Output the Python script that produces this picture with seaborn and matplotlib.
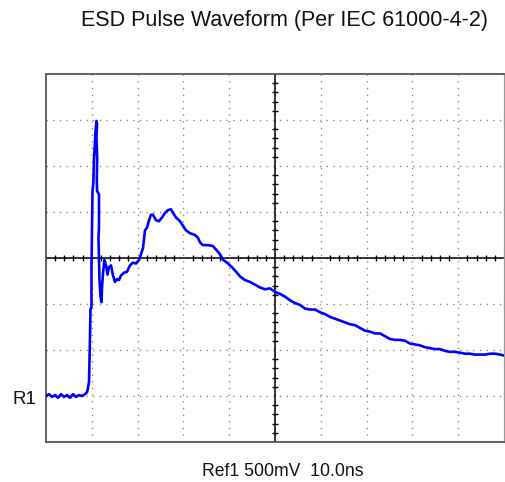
import matplotlib

matplotlib.use("Agg")

import matplotlib.pyplot as plt
import numpy as np
import pandas as pd
import seaborn as sns

# waveform: time in ns, voltage in V relative to the R1 reference
time_ns = [
    0.0, 0.66, 1.31, 1.97, 2.62, 3.28, 3.93, 4.59, 5.24, 5.90, 6.55, 7.21, 7.86, 8.52,
    8.95, 9.17, 9.39, 9.61, 9.71, 9.93, 9.93, 10.04, 10.15, 10.33, 10.48, 10.70, 10.81,
    11.03, 11.14, 11.03, 11.18, 11.09, 11.14, 11.57, 11.57, 11.46, 11.57, 11.68, 11.90,
    12.12, 12.23, 12.45, 12.77, 13.10, 13.43, 13.75, 14.19, 14.63, 15.06, 15.50, 15.94,
    16.37, 17.03, 17.68, 18.34, 19.00, 19.65, 20.31, 20.74, 21.18, 21.61, 22.05, 22.49,
    22.92, 23.36, 24.02, 24.67, 25.33, 25.98, 26.64, 27.29, 27.73, 28.38, 29.26, 29.91,
    30.57, 31.44, 32.53, 33.18, 33.62, 34.27, 35.37, 36.46, 37.33, 37.99, 38.64, 39.52,
    40.61, 41.70, 42.36, 43.44, 44.54, 45.63, 46.72, 47.81, 48.91, 50.00, 51.09, 52.18,
    53.28, 54.37, 55.46, 56.55, 57.64, 58.73, 59.83, 60.92, 62.01, 63.10, 64.19, 65.28,
    66.38, 67.47, 68.56, 69.65, 70.74, 71.83, 72.93, 74.02, 75.11, 76.20, 77.29, 78.38,
    79.48, 80.57, 81.66, 82.75, 83.84, 84.93, 86.03, 87.12, 88.21, 89.30, 90.39, 91.48,
    92.57, 93.67, 94.76, 95.85, 96.94, 98.03, 99.12, 100.0,
]
volts = [
    0.00, 0.02, -0.01, 0.01, -0.02, 0.02, -0.01, 0.01, -0.02, 0.02, -0.01, 0.01, 0.00, 0.02,
    0.04, 0.09, 0.15, 0.65, 0.94, 0.97, 1.40, 1.83, 2.23, 2.31, 2.58, 2.76, 2.88,
    2.99, 2.96, 2.80, 2.58, 2.37, 2.23, 2.19, 1.83, 1.72, 1.51, 1.26, 1.08,
    1.02, 1.18, 1.34, 1.48, 1.42, 1.32, 1.40, 1.42, 1.31, 1.24, 1.27, 1.26,
    1.31, 1.34, 1.35, 1.42, 1.45, 1.44, 1.48, 1.54, 1.61, 1.80, 1.83, 1.91,
    1.97, 1.97, 1.91, 1.90, 1.94, 1.99, 2.02, 2.03, 1.99, 1.94, 1.90, 1.85,
    1.80, 1.77, 1.75, 1.72, 1.67, 1.64, 1.64, 1.63, 1.58, 1.54, 1.48, 1.45,
    1.40, 1.34, 1.30, 1.26, 1.24, 1.21, 1.18, 1.16, 1.17, 1.13, 1.11, 1.08,
    1.04, 1.01, 0.99, 0.95, 0.94, 0.94, 0.91, 0.89, 0.86, 0.84, 0.82, 0.80,
    0.78, 0.77, 0.74, 0.71, 0.70, 0.68, 0.68, 0.65, 0.62, 0.61, 0.61, 0.60,
    0.57, 0.56, 0.55, 0.53, 0.52, 0.51, 0.51, 0.49, 0.48, 0.48, 0.47, 0.46,
    0.46, 0.45, 0.45, 0.45, 0.46, 0.46, 0.45, 0.44,
]

title = "ESD Pulse Waveform (Per IEC 61000-4-2)"
scale_label = "Ref1 500mV  10.0ns"
ref_label = "R1"
ref_level = 0.0

x_div, y_div = 10.0, 0.5  # 10 ns/div, 500 mV/div
x_lim = (0.0, 100.0)
y_lim = (-0.5, 3.5)

sns.set_style("white")
plt.rcParams["font.family"] = ["Liberation Sans", "DejaVu Sans"]

df = pd.DataFrame({"t": time_ns, "v": volts})

fig = plt.figure(figsize=(5.06, 4.82), dpi=100)
ax = fig.add_axes([46 / 506, 40 / 482, 458 / 506, 368 / 482])

# dotted graticule
for gx in np.arange(x_lim[0] + x_div, x_lim[1], x_div):
    ax.axvline(gx, color="#8a8a8a", lw=1.0, ls=(0, (1, 3.8)), zorder=1)
for gy in np.arange(y_lim[0] + y_div, y_lim[1], y_div):
    ax.axhline(gy, color="#8a8a8a", lw=1.0, ls=(0, (1, 3.8)), zorder=1)

# center crosshair with minor ticks
xc = (x_lim[0] + x_lim[1]) / 2
yc = (y_lim[0] + y_lim[1]) / 2
ax.axvline(xc, color="black", lw=1.1, zorder=2)
ax.axhline(yc, color="black", lw=1.1, zorder=2)
mx = [v for v in np.arange(x_lim[0], x_lim[1] + 1e-9, x_div / 5) if abs(v / x_div - round(v / x_div)) > 1e-6]
my = [v for v in np.arange(y_lim[0], y_lim[1] + 1e-9, y_div / 5) if abs(v / y_div - round(v / y_div)) > 1e-6]
ax.plot(mx, [yc] * len(mx), ls="none", marker="|", ms=5, mew=1.0, color="black", zorder=2)
ax.plot([xc] * len(my), my, ls="none", marker="_", ms=5, mew=1.0, color="black", zorder=2)

sns.lineplot(data=df, x="t", y="v", sort=False, estimator=None, ax=ax,
             color="#0000ff", linewidth=1.9, zorder=3)

ax.set_xlim(*x_lim)
ax.set_ylim(*y_lim)
ax.set_xticks([])
ax.set_yticks([])
ax.set_xlabel("")
ax.set_ylabel("")
for side in ["left", "bottom", "top"]:
    ax.spines[side].set_color("#555555")
    ax.spines[side].set_linewidth(1.3)
ax.spines["right"].set_color("#9a9a9a")
ax.spines["right"].set_linewidth(0.9)

ax.text(-0.02, ref_level - 0.09, ref_label, transform=ax.get_yaxis_transform(),
        ha="right", va="baseline", fontsize=13.5, color="#111111")
fig.text(285 / 506, 1 - 26 / 482, title, ha="center", va="baseline", fontsize=15.5, color="#111111")
fig.text(283 / 506, 1 - 476 / 482, scale_label, ha="center", va="baseline", fontsize=12.7, color="#111111")

fig.savefig("out.png", dpi=100)
plt.close(fig)
